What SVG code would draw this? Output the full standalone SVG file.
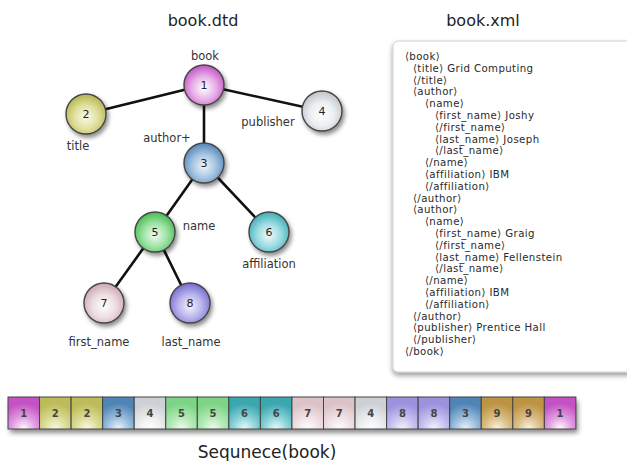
<svg xmlns="http://www.w3.org/2000/svg" width="627" height="461" viewBox="0 0 627 461">
  <style>
    .title { font-family: "DejaVu Sans", sans-serif; font-size: 16px; fill: #222; text-anchor: middle; }
    .lbl { font-family: "DejaVu Sans", sans-serif; font-size: 11.5px; fill: #333; text-anchor: middle; }
    .num { font-family: "DejaVu Sans", sans-serif; font-size: 11px; fill: #222; text-anchor: middle; }
    .cnum { font-family: "DejaVu Sans", sans-serif; font-size: 10px; font-weight: bold; fill: #444; text-anchor: middle; }
    .node circle { stroke: #444; stroke-width: 1.4; filter: url(#shadow); }
    .edge { stroke: #111; stroke-width: 2.6; fill: none; stroke-linecap: round; }
    .cell { stroke: #444; stroke-width: 1; }
    .xml { font-family: "DejaVu Sans", sans-serif; font-size: 10.2px; letter-spacing: 0.4px; fill: #2a2a2a; }
  </style>
  <defs>
    <filter id="shadow" x="-40%" y="-40%" width="190%" height="190%">
      <feDropShadow dx="2" dy="3" stdDeviation="2.2" flood-color="#000" flood-opacity="0.45"/>
    </filter>
    <filter id="barShadow" x="-5%" y="-30%" width="110%" height="190%">
      <feDropShadow dx="2" dy="4" stdDeviation="2.5" flood-color="#000" flood-opacity="0.45"/>
    </filter>
    <filter id="boxShadow" x="-5%" y="-5%" width="110%" height="112%">
      <feDropShadow dx="0" dy="3" stdDeviation="2.5" flood-color="#000" flood-opacity="0.4"/>
    </filter>
    <!-- glossy sphere fills: bright core low in the ball, saturated rim -->
    <radialGradient id="s1" cx="50%" cy="58%" r="55%"><stop offset="0" stop-color="#fff"/><stop offset="0.55" stop-color="#e7aee7"/><stop offset="1" stop-color="#c65cc6"/></radialGradient>
    <radialGradient id="s2" cx="50%" cy="58%" r="55%"><stop offset="0" stop-color="#fbfbe8"/><stop offset="0.55" stop-color="#e0e09e"/><stop offset="1" stop-color="#b8b855"/></radialGradient>
    <radialGradient id="s3" cx="50%" cy="58%" r="55%"><stop offset="0" stop-color="#eef5fb"/><stop offset="0.55" stop-color="#a5c4e0"/><stop offset="1" stop-color="#5a8cbc"/></radialGradient>
    <radialGradient id="s4" cx="50%" cy="58%" r="55%"><stop offset="0" stop-color="#fff"/><stop offset="0.55" stop-color="#eceef0"/><stop offset="1" stop-color="#c3c6cb"/></radialGradient>
    <radialGradient id="s5" cx="50%" cy="58%" r="55%"><stop offset="0" stop-color="#f0fbf0"/><stop offset="0.55" stop-color="#9ee2a4"/><stop offset="1" stop-color="#4cc058"/></radialGradient>
    <radialGradient id="s6" cx="50%" cy="58%" r="55%"><stop offset="0" stop-color="#effafb"/><stop offset="0.55" stop-color="#9adbe0"/><stop offset="1" stop-color="#45b2ba"/></radialGradient>
    <radialGradient id="s7" cx="50%" cy="58%" r="55%"><stop offset="0" stop-color="#fff"/><stop offset="0.55" stop-color="#ecdce0"/><stop offset="1" stop-color="#cfaab4"/></radialGradient>
    <radialGradient id="s8" cx="50%" cy="58%" r="55%"><stop offset="0" stop-color="#f3f2fd"/><stop offset="0.55" stop-color="#b8b3ec"/><stop offset="1" stop-color="#7a72d2"/></radialGradient>
    <!-- cell fills: glow rising from the bottom edge -->
    <radialGradient id="c1" cx="50%" cy="100%" r="80%"><stop offset="0" stop-color="#fff"/><stop offset="0.45" stop-color="#e3a2e3"/><stop offset="1" stop-color="#c452c4"/></radialGradient>
    <radialGradient id="c2" cx="50%" cy="100%" r="80%"><stop offset="0" stop-color="#fbfbe6"/><stop offset="0.45" stop-color="#dcdc98"/><stop offset="1" stop-color="#bcbc5a"/></radialGradient>
    <radialGradient id="c3" cx="50%" cy="100%" r="80%"><stop offset="0" stop-color="#eef5fb"/><stop offset="0.45" stop-color="#9dbfde"/><stop offset="1" stop-color="#4f84b6"/></radialGradient>
    <radialGradient id="c4" cx="50%" cy="100%" r="80%"><stop offset="0" stop-color="#fff"/><stop offset="0.45" stop-color="#eceef0"/><stop offset="1" stop-color="#cdd0d4"/></radialGradient>
    <radialGradient id="c5" cx="50%" cy="100%" r="80%"><stop offset="0" stop-color="#f2fcf2"/><stop offset="0.45" stop-color="#b4eab8"/><stop offset="1" stop-color="#7ed486"/></radialGradient>
    <radialGradient id="c6" cx="50%" cy="100%" r="80%"><stop offset="0" stop-color="#effafb"/><stop offset="0.45" stop-color="#8fd4da"/><stop offset="1" stop-color="#3aa6ae"/></radialGradient>
    <radialGradient id="c7" cx="50%" cy="100%" r="80%"><stop offset="0" stop-color="#fff"/><stop offset="0.45" stop-color="#f0e3e6"/><stop offset="1" stop-color="#dcc2c9"/></radialGradient>
    <radialGradient id="c8" cx="50%" cy="100%" r="80%"><stop offset="0" stop-color="#f5f4fd"/><stop offset="0.45" stop-color="#c9c4f0"/><stop offset="1" stop-color="#9a92dc"/></radialGradient>
    <radialGradient id="c9" cx="50%" cy="100%" r="80%"><stop offset="0" stop-color="#fbf5e6"/><stop offset="0.45" stop-color="#dcc08a"/><stop offset="1" stop-color="#bd9443"/></radialGradient>
  </defs>

  <rect width="627" height="461" fill="#fff"/>

  <text class="title" x="203" y="26">book.dtd</text>
  <text class="title" x="483" y="26">book.xml</text>

  <!-- tree edges -->
  <g id="edges">
    <line class="edge" x1="204" y1="85" x2="86" y2="114"/>
    <line class="edge" x1="204" y1="85" x2="322" y2="111"/>
    <line class="edge" x1="204" y1="85" x2="204" y2="163"/>
    <line class="edge" x1="204" y1="163" x2="155" y2="232"/>
    <line class="edge" x1="204" y1="163" x2="269" y2="232"/>
    <line class="edge" x1="155" y1="232" x2="104" y2="303"/>
    <line class="edge" x1="155" y1="232" x2="190" y2="303"/>
  </g>

  <!-- tree nodes -->
  <g id="n1" class="node"><circle cx="204" cy="85" r="20" fill="url(#s1)"/><text class="num" x="204" y="89">1</text><text class="lbl" x="205" y="60">book</text></g>
  <g id="n2" class="node"><circle cx="86" cy="114" r="20" fill="url(#s2)"/><text class="num" x="86" y="118">2</text><text class="lbl" x="78" y="150">title</text></g>
  <g id="n3" class="node"><circle cx="204" cy="163" r="20" fill="url(#s3)"/><text class="num" x="204" y="167">3</text><text class="lbl" x="167" y="142">author+</text></g>
  <g id="n4" class="node"><circle cx="322" cy="111" r="20" fill="url(#s4)"/><text class="num" x="322" y="115">4</text><text class="lbl" x="268" y="126">publisher</text></g>
  <g id="n5" class="node"><circle cx="155" cy="232" r="20" fill="url(#s5)"/><text class="num" x="155" y="236">5</text><text class="lbl" x="199" y="230">name</text></g>
  <g id="n6" class="node"><circle cx="269" cy="232" r="20" fill="url(#s6)"/><text class="num" x="269" y="236">6</text><text class="lbl" x="269" y="268">affiliation</text></g>
  <g id="n7" class="node"><circle cx="104" cy="303" r="20" fill="url(#s7)"/><text class="num" x="104" y="307">7</text><text class="lbl" x="99" y="346">first_name</text></g>
  <g id="n8" class="node"><circle cx="190" cy="303" r="20" fill="url(#s8)"/><text class="num" x="190" y="307">8</text><text class="lbl" x="191" y="346">last_name</text></g>

  <!-- XML document panel -->
  <g id="xmlbox">
    <rect x="393" y="41" width="240" height="331" rx="5" fill="#fff" stroke="#cfcfcf" stroke-width="1" filter="url(#boxShadow)"/>
    <g class="xml">
      <text x="405" y="60">⟨book⟩</text>
      <text x="413" y="71.8">⟨title⟩ Grid Computing</text>
      <text x="413" y="83.6">⟨/title⟩</text>
      <text x="413" y="95.4">⟨author⟩</text>
      <text x="425" y="107.2">⟨name⟩</text>
      <text x="435" y="119">⟨first_name⟩ Joshy</text>
      <text x="435" y="130.8">⟨/first_name⟩</text>
      <text x="435" y="142.6">⟨last_name⟩ Joseph</text>
      <text x="435" y="154.4">⟨/last_name⟩</text>
      <text x="425" y="166.2">⟨/name⟩</text>
      <text x="425" y="178">⟨affiliation⟩ IBM</text>
      <text x="425" y="189.8">⟨/affiliation⟩</text>
      <text x="413" y="201.6">⟨/author⟩</text>
      <text x="413" y="213.4">⟨author⟩</text>
      <text x="425" y="225.2">⟨name⟩</text>
      <text x="435" y="237">⟨first_name⟩ Graig</text>
      <text x="435" y="248.8">⟨/first_name⟩</text>
      <text x="435" y="260.6">⟨last_name⟩ Fellenstein</text>
      <text x="435" y="272.4">⟨/last_name⟩</text>
      <text x="425" y="284.2">⟨/name⟩</text>
      <text x="425" y="296">⟨affiliation⟩ IBM</text>
      <text x="425" y="307.8">⟨/affiliation⟩</text>
      <text x="413" y="319.6">⟨/author⟩</text>
      <text x="413" y="331.4">⟨publisher⟩ Prentice Hall</text>
      <text x="413" y="343.2">⟨/publisher⟩</text>
      <text x="405" y="355">⟨/book⟩</text>
    </g>
  </g>

  <!-- sequence strip -->
  <g id="sequence">
    <rect x="8" y="397" width="568" height="32" fill="#888" filter="url(#barShadow)"/>
    <rect class="cell" x="8" y="397" width="31.55" height="32" fill="url(#c1)"/>
    <rect class="cell" x="39.55" y="397" width="31.55" height="32" fill="url(#c2)"/>
    <rect class="cell" x="71.1" y="397" width="31.55" height="32" fill="url(#c2)"/>
    <rect class="cell" x="102.65" y="397" width="31.55" height="32" fill="url(#c3)"/>
    <rect class="cell" x="134.2" y="397" width="31.55" height="32" fill="url(#c4)"/>
    <rect class="cell" x="165.75" y="397" width="31.55" height="32" fill="url(#c5)"/>
    <rect class="cell" x="197.3" y="397" width="31.55" height="32" fill="url(#c5)"/>
    <rect class="cell" x="228.85" y="397" width="31.55" height="32" fill="url(#c6)"/>
    <rect class="cell" x="260.4" y="397" width="31.55" height="32" fill="url(#c6)"/>
    <rect class="cell" x="291.95" y="397" width="31.55" height="32" fill="url(#c7)"/>
    <rect class="cell" x="323.5" y="397" width="31.55" height="32" fill="url(#c7)"/>
    <rect class="cell" x="355.05" y="397" width="31.55" height="32" fill="url(#c4)"/>
    <rect class="cell" x="386.6" y="397" width="31.55" height="32" fill="url(#c8)"/>
    <rect class="cell" x="418.15" y="397" width="31.55" height="32" fill="url(#c8)"/>
    <rect class="cell" x="449.7" y="397" width="31.55" height="32" fill="url(#c3)"/>
    <rect class="cell" x="481.25" y="397" width="31.55" height="32" fill="url(#c9)"/>
    <rect class="cell" x="512.8" y="397" width="31.55" height="32" fill="url(#c9)"/>
    <rect class="cell" x="544.35" y="397" width="31.55" height="32" fill="url(#c1)"/>
    <g class="cnum">
      <text x="23.8" y="416.5">1</text>
      <text x="55.3" y="416.5">2</text>
      <text x="86.9" y="416.5">2</text>
      <text x="118.4" y="416.5">3</text>
      <text x="150" y="416.5">4</text>
      <text x="181.5" y="416.5">5</text>
      <text x="213.1" y="416.5">5</text>
      <text x="244.6" y="416.5">6</text>
      <text x="276.2" y="416.5">6</text>
      <text x="307.7" y="416.5">7</text>
      <text x="339.3" y="416.5">7</text>
      <text x="370.8" y="416.5">4</text>
      <text x="402.4" y="416.5">8</text>
      <text x="433.9" y="416.5">8</text>
      <text x="465.5" y="416.5">3</text>
      <text x="497" y="416.5">9</text>
      <text x="528.6" y="416.5">9</text>
      <text x="560.1" y="416.5">1</text>
    </g>
    <text class="title" x="267" y="458" style="font-size:17px">Sequnece(book)</text>
  </g>
</svg>
